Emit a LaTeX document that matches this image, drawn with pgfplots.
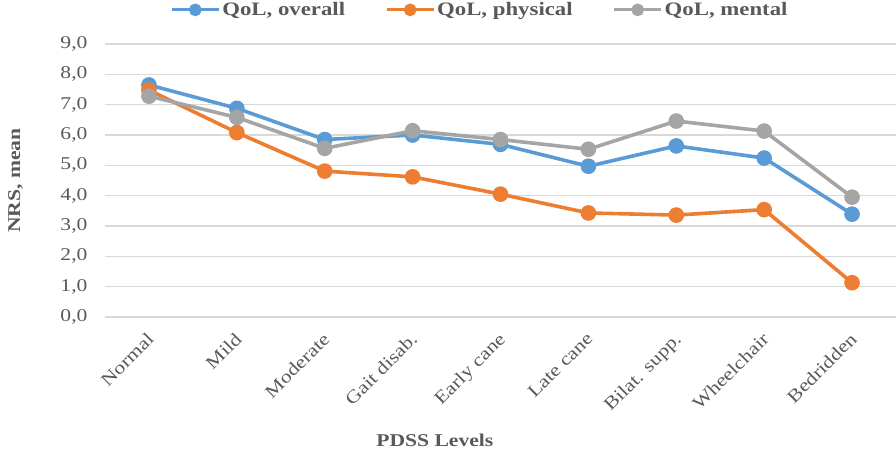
\documentclass[border=0pt]{standalone}
\usepackage{pgfplots}
\pgfplotsset{compat=1.18}
\usepackage{fontspec}
\setmainfont{Liberation Serif}[FakeStretch=1.2]
\definecolor{cblue}{HTML}{5B9BD5}
\definecolor{corange}{HTML}{ED7D31}
\definecolor{cgray}{HTML}{A5A5A5}
\definecolor{tgray}{HTML}{595959}
\definecolor{gridc}{HTML}{D9D9D9}
\begin{document}
\begin{tikzpicture}[x=1pt,y=1pt]
\begin{axis}[
  scale only axis,
  width=791pt, height=273pt,
  xmin=-0.5, xmax=8.5,
  ymin=0, ymax=9,
  ytick={0,1,...,9},
  xtick={0,...,8},
  xticklabels={Normal,Mild,Moderate,Gait disab.,Early cane,Late cane,Bilat. supp.,Wheelchair,Bedridden},
  axis line style={draw=none},
  major tick length=0pt,
  ymajorgrids=true,
  xmajorgrids=false,
  grid style={draw=gridc, line width=1.5pt},
  tick label style={font=\fontsize{18}{20}\selectfont, text=tgray},
  xticklabel style={xshift=-3pt, yshift=-13pt, rotate=45, anchor=north east, inner sep=1pt},
  yticklabel style={xshift=-14pt},
  /pgf/number format/.cd, fixed, fixed zerofill, precision=1, use comma, assume math mode=true,
  /pgfplots/.cd,
  ylabel={\textbf{NRS, mean}},
  ylabel style={font=\fontsize{18}{20}\selectfont, text=tgray, at={(axis description cs:-0.113,0.5)}, anchor=center},
  xlabel={\textbf{PDSS Levels}},
  xlabel style={font=\fontsize{18}{20}\selectfont, text=tgray, at={(axis description cs:0.417,-0.45)}, anchor=center},
  legend style={draw=none, fill=none, at={(0.474,1.125)}, anchor=center, legend columns=3,
    font=\bfseries\fontsize{19}{21}\selectfont, text=tgray,
    /tikz/every even column/.append style={column sep=38pt}},
  legend image code/.code={
    \draw[#1, mark=none, line width=3pt] (0pt,0pt) -- (47pt,0pt);
    \fill[#1] (23.5pt,0pt) circle (4.5pt);
  },
  every axis plot/.append style={line width=3.6pt, mark=*, mark size=6pt},
]
\addplot[color=cblue, mark options={fill=cblue, draw=cblue}] coordinates {
  (0,7.65) (1,6.88) (2,5.85) (3,6.00) (4,5.69) (5,4.97) (6,5.64) (7,5.24) (8,3.39)
};
\addplot[color=corange, mark options={fill=corange, draw=corange}] coordinates {
  (0,7.48) (1,6.08) (2,4.81) (3,4.62) (4,4.05) (5,3.43) (6,3.36) (7,3.54) (8,1.13)
};
\addplot[color=cgray, mark options={fill=cgray, draw=cgray}] coordinates {
  (0,7.28) (1,6.58) (2,5.56) (3,6.14) (4,5.85) (5,5.53) (6,6.46) (7,6.13) (8,3.95)
};
\legend{{QoL, overall},{QoL, physical},{QoL, mental}}
\end{axis}
\pgfresetboundingbox
\useasboundingbox (-105pt,-132pt) rectangle (791pt,317pt);
\end{tikzpicture}
\end{document}
